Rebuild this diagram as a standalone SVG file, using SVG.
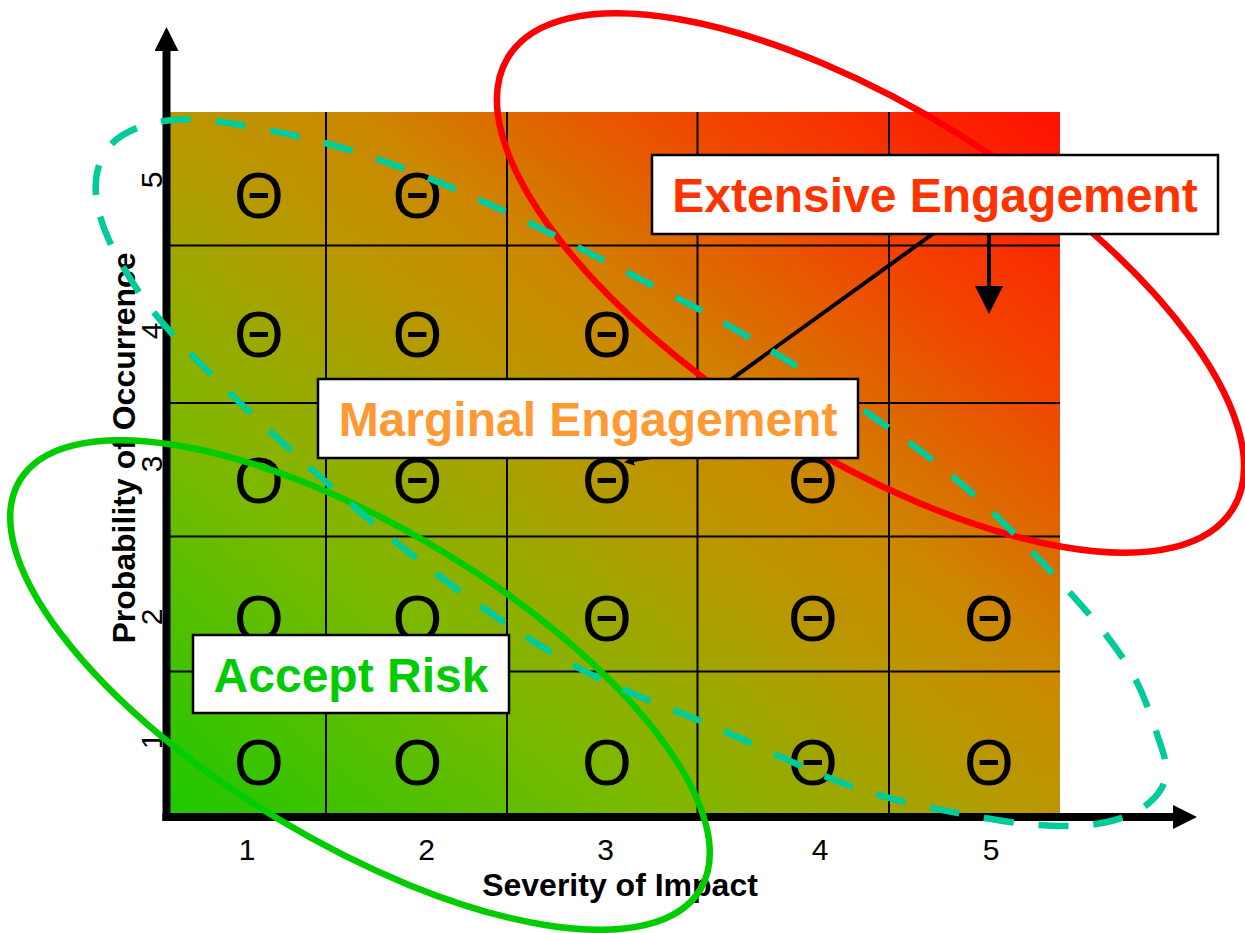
<svg xmlns="http://www.w3.org/2000/svg" width="1245" height="933" viewBox="0 0 1245 933">
  <defs>
    <linearGradient id="heat" x1="0" y1="1" x2="1" y2="0">
      <stop offset="0" stop-color="#1ec800"/>
      <stop offset="0.28" stop-color="#7eb800"/>
      <stop offset="0.49" stop-color="#b89800"/>
      <stop offset="0.6" stop-color="#cc8800"/>
      <stop offset="0.7" stop-color="#e06400"/>
      <stop offset="0.8" stop-color="#f24400"/>
      <stop offset="1" stop-color="#ff1000"/>
    </linearGradient>
    <marker id="axhead" viewBox="0 0 24 24" refX="0" refY="12" markerWidth="24" markerHeight="24" markerUnits="userSpaceOnUse" orient="auto">
      <path d="M0,0 L24,12 L0,24 z" fill="#000"/>
    </marker>
    <marker id="bighead" viewBox="0 0 28 28" refX="0" refY="14" markerWidth="28" markerHeight="28" markerUnits="userSpaceOnUse" orient="auto">
      <path d="M0,0 L28,14 L0,28 z" fill="#000"/>
    </marker>
    <marker id="smallhead" viewBox="0 0 10 10" refX="2" refY="5" markerWidth="10" markerHeight="10" markerUnits="userSpaceOnUse" orient="auto">
      <path d="M0,0 L10,5 L0,10 z" fill="#000"/>
    </marker>
  </defs>
  <style>
    .gl { stroke:#000; stroke-width:2; }
    .axis { stroke:#000; stroke-width:8; fill:none; }
    .sym { font-family:"Liberation Sans", Arial, sans-serif; font-size:64px; text-anchor:middle; fill:#000; }
    .num { font-family:"Liberation Sans", Arial, sans-serif; font-size:30px; text-anchor:middle; fill:#000; }
    .axl { font-family:"Liberation Sans", Arial, sans-serif; font-size:32px; font-weight:bold; text-anchor:middle; fill:#000; }
    .box { fill:#fff; stroke:#000; stroke-width:2.5; }
    .lbl { font-family:"Liberation Sans", Arial, sans-serif; font-size:48px; font-weight:bold; text-anchor:middle; }
    .conn { stroke:#000; fill:none; }
    .region { fill:none; stroke-width:6.5; }
  </style>

  <g id="matrix">
    <rect x="170" y="112" width="890" height="702" fill="url(#heat)"/>
    <g id="grid">
      <line class="gl" x1="326" y1="112" x2="326" y2="814"/>
      <line class="gl" x1="507" y1="112" x2="507" y2="814"/>
      <line class="gl" x1="697.5" y1="112" x2="697.5" y2="814"/>
      <line class="gl" x1="889" y1="112" x2="889" y2="814"/>
      <line class="gl" x1="170" y1="245.5" x2="1060" y2="245.5"/>
      <line class="gl" x1="170" y1="403" x2="1060" y2="403"/>
      <line class="gl" x1="170" y1="536.5" x2="1060" y2="536.5"/>
      <line class="gl" x1="170" y1="671.5" x2="1060" y2="671.5"/>
    </g>
    <g id="cells">
      <text class="sym" x="259" y="217.5">Θ</text>
      <text class="sym" x="417.5" y="217.5">Θ</text>
      <text class="sym" x="259" y="357">Θ</text>
      <text class="sym" x="417.5" y="357">Θ</text>
      <text class="sym" x="607" y="357">Θ</text>
      <text class="sym" x="259" y="503">O</text>
      <text class="sym" x="417.5" y="503">Θ</text>
      <text class="sym" x="607" y="503">Θ</text>
      <text class="sym" x="813" y="503">Θ</text>
      <text class="sym" x="259" y="641">O</text>
      <text class="sym" x="417.5" y="641">O</text>
      <text class="sym" x="607" y="641">Θ</text>
      <text class="sym" x="813" y="641">Θ</text>
      <text class="sym" x="989" y="641">Θ</text>
      <text class="sym" x="259" y="785">O</text>
      <text class="sym" x="417.5" y="785">O</text>
      <text class="sym" x="607" y="785">O</text>
      <text class="sym" x="813" y="785">Θ</text>
      <text class="sym" x="989" y="785">Θ</text>
    </g>
  </g>

  <g id="axes">
    <line class="axis" x1="166.5" y1="821" x2="166.5" y2="51" marker-end="url(#axhead)"/>
    <line class="axis" x1="162.5" y1="817" x2="1173" y2="817" marker-end="url(#axhead)"/>
    <g id="y-ticks">
      <text class="num" transform="translate(162,180) rotate(-90)">5</text>
      <text class="num" transform="translate(162,331) rotate(-90)">4</text>
      <text class="num" transform="translate(162,464) rotate(-90)">3</text>
      <text class="num" transform="translate(162,617) rotate(-90)">2</text>
      <text class="num" transform="translate(162,741) rotate(-90)">1</text>
    </g>
    <g id="x-ticks">
      <text class="num" x="247" y="860">1</text>
      <text class="num" x="426.5" y="860">2</text>
      <text class="num" x="605.5" y="860">3</text>
      <text class="num" x="820" y="860">4</text>
      <text class="num" x="991" y="860">5</text>
    </g>
    <text id="y-title" class="axl" transform="translate(135,448) rotate(-90)">Probability of Occurrence</text>
    <text id="x-title" class="axl" x="620" y="896">Severity of Impact</text>
  </g>

  <g id="connectors">
    <line class="conn" stroke-width="4" x1="934" y1="233" x2="704" y2="399"/>
    <line class="conn" stroke-width="2.5" x1="662" y1="456" x2="632" y2="461" marker-end="url(#smallhead)"/>
    <line class="conn" stroke-width="4" x1="989" y1="234" x2="989" y2="286" marker-end="url(#bighead)"/>
  </g>

  <g id="regions">
    <ellipse id="region-extensive" class="region" stroke="#ff0000" cx="870.5" cy="283" rx="427" ry="173" transform="rotate(32 870.5 283)"/>
    <ellipse id="region-accept" class="region" stroke="#00cc00" cx="360" cy="685" rx="397" ry="157" transform="rotate(31 360 685)"/>
    <path id="region-marginal" class="region" stroke="#00cc99" stroke-width="7" stroke-dasharray="30 25" d="M96,195 C94.3,176.7 99,159.8 108,148 C117,136.2 132.5,128.5 150,124 C167.5,119.5 183.8,117.8 213,121 C242.2,124.2 290,133.8 325,143 C360,152.2 390.7,163.5 423,176 C455.3,188.5 484.2,201.5 519,218 C553.8,234.5 595.5,256.2 632,275 C668.5,293.8 700.2,309 738,331 C775.8,353 821.2,381 859,407 C896.8,433 930.8,457.2 965,487 C999.2,516.8 1036.8,556.2 1064,586 C1091.2,615.8 1112.3,640.8 1128,666 C1143.7,691.2 1151.7,718.8 1158,737 C1164.3,755.2 1167.3,764.2 1166,775 C1164.7,785.8 1158.5,794.5 1150,802 C1141.5,809.5 1129.2,816 1115,820 C1100.8,824 1086.7,826.3 1065,826 C1043.3,825.7 1019.3,824.2 985,818 C950.7,811.8 903.7,804 859,789 C814.3,774 764.3,748.5 717,728 C669.7,707.5 622.2,692 575,666 C527.8,640 480.5,607.2 434,572 C387.5,536.8 339.2,494.2 296,455 C252.8,415.8 204.7,369.8 175,337 C145.3,304.2 131.2,281.7 118,258 C104.8,234.3 97.7,213.3 96,195 Z"/>
  </g>

  <g id="label-extensive">
    <rect class="box" x="652" y="155" width="566" height="79"/>
    <text class="lbl" x="935" y="212" fill="#ff3300">Extensive Engagement</text>
  </g>
  <g id="label-marginal">
    <rect class="box" x="318" y="379" width="540" height="79"/>
    <text class="lbl" x="588" y="435.5" fill="#ff9933">Marginal Engagement</text>
  </g>
  <g id="label-accept">
    <rect class="box" x="193" y="635" width="316" height="78"/>
    <text class="lbl" x="351" y="691.5" fill="#00cc00">Accept Risk</text>
  </g>
</svg>
